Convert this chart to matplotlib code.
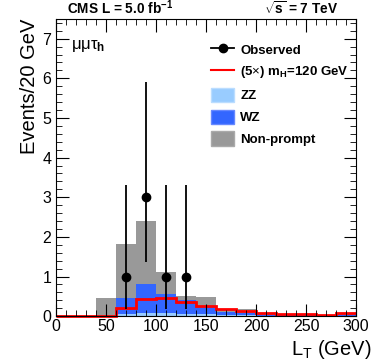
import numpy as np
import matplotlib
matplotlib.use('Agg')
import matplotlib.pyplot as plt
from matplotlib.patches import Patch
from matplotlib.lines import Line2D

plt.rcParams['font.family'] = ['Liberation Sans', 'DejaVu Sans']
plt.rcParams['mathtext.fontset'] = 'custom'
plt.rcParams['mathtext.rm'] = 'Liberation Sans'
plt.rcParams['mathtext.it'] = 'Liberation Sans:italic'
plt.rcParams['mathtext.bf'] = 'Liberation Sans:bold'

# binning: 20 GeV bins from 0 to 300
edges = np.arange(0, 320, 20)

# backgrounds (stacked): ZZ, WZ, non-prompt
zz = [0, 0, 0, 0.06, 0.07, 0.07, 0.06, 0.05, 0.03, 0.02, 0.01, 0.01, 0.01, 0.01, 0.01]
wz_top = [0, 0, 0, 0.46, 0.82, 0.57, 0.40, 0.22, 0.11, 0.07, 0.04, 0.04, 0.03, 0.03, 0.04]
np_top = [0, 0, 0.46, 1.83, 2.40, 1.12, 0.51, 0.48, 0.19, 0.17, 0.07, 0.04, 0.03, 0.03, 0.05]

# signal (5x), mH = 120 GeV
signal = [0.01, 0.01, 0.01, 0.21, 0.44, 0.45, 0.36, 0.25, 0.19, 0.13, 0.08, 0.05, 0.05, 0.03, 0.07]

# observed events
obs_x = [70, 90, 110, 130]
obs_y = [1, 3, 1, 1]
obs_lo = [0.83, 1.63, 0.83, 0.83]
obs_hi = [2.30, 2.92, 2.30, 2.30]

fig = plt.figure(figsize=(3.74, 3.63), dpi=100)
ax = fig.add_axes([0.150, 0.129, 0.802, 0.819])

c_zz = '#99ccff'
c_wz = '#3366ff'
c_np = '#999999'

ax.stairs(np_top, edges, baseline=wz_top, fill=True, color=c_np, lw=0)
ax.stairs(wz_top, edges, baseline=zz, fill=True, color=c_wz, lw=0)
ax.stairs(zz, edges, baseline=0, fill=True, color=c_zz, lw=0)
ax.stairs(signal, edges, baseline=None, color='#ff0000', lw=2, clip_on=False)

ax.errorbar(obs_x, obs_y, yerr=[obs_lo, obs_hi], fmt='o', color='black',
            ms=6, elinewidth=1.3, capsize=0)

ax.set_xlim(0, 300)
ax.set_ylim(0, 7.5)
ax.set_xticks(np.arange(0, 301, 50))
ax.set_xticks(np.arange(0, 301, 10), minor=True)
ax.set_yticks(np.arange(0, 8, 1))
ax.set_yticks(np.arange(0, 7.6, 0.2), minor=True)
ax.tick_params(which='both', direction='in', top=True, right=True, labelsize=11.5)
ax.tick_params(which='major', length=9)
ax.tick_params(which='minor', length=4)
ax.tick_params(axis='x', pad=2)

ax.set_xlabel(r'L$_{\mathrm{T}}$ (GeV)', fontsize=14.5, loc='right', labelpad=0)
ax.xaxis.set_label_coords(1.05, -0.075)
ax.set_ylabel('Events/20 GeV', fontsize=14.5, loc='top', labelpad=2)

fig.text(0.178, 0.953, r'CMS L = 5.0 fb$^{\mathbf{-1}}$', fontsize=9.8, fontweight='bold', va='bottom')
fig.text(0.903, 0.953, r'$\sqrt{\mathbf{s}}$ = 7 TeV', fontsize=9.8, fontweight='bold', va='bottom', ha='right')

ax.text(0.05, 0.90, r'μμτ$_{\mathbf{h}}$', transform=ax.transAxes, fontsize=12)

handles = [
    Line2D([], [], color='black', marker='o', ms=6, lw=1.3),
    Line2D([], [], color='#ff0000', lw=1.5),
    Patch(facecolor=c_zz, edgecolor='#bbddff'),
    Patch(facecolor=c_wz, edgecolor='#6688ff'),
    Patch(facecolor=c_np, edgecolor='#aaaaaa'),
]
labels = ['Observed', r'(5$\times$) m$_{\mathbf{H}}$=120 GeV', 'ZZ', 'WZ', 'Non-prompt']
ax.legend(handles, labels, loc='upper left', bbox_to_anchor=(0.5, 0.94), frameon=False,
          prop={'weight': 'bold', 'size': 9.5}, handlelength=1.7, handleheight=1.3,
          handletextpad=0.5, labelspacing=0.55, borderaxespad=0)

fig.savefig('out.png', dpi=100)
